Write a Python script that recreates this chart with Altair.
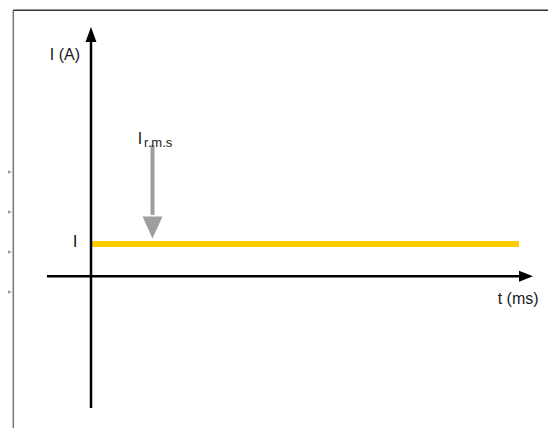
import altair as alt
import pandas as pd

# ---- schematic data (t in ms, current in units of I) ----
signal_t = [0, 100]            # constant r.m.s current I over time
signal_i = [1, 1]

x_axis_t = [-10.3, 100]        # horizontal (time) axis extent
x_head_t = [101.64]
y_axis_i = [-4.08, 7.3]        # vertical (current) axis extent
y_head_i = [7.486]

rms_arrow_t = [14.37]          # grey arrow pointing at the level
rms_shaft_i = [4.065, 1.9]
rms_head_i = [1.511]

side_marks_i = [3.229, 1.990, 0.752, -0.486]   # grey pointers at left edge
side_marks_t = -19.86

frame_left_t = -18.15
frame_top_i = 8.235
frame_bottom_i = -4.70
frame_right_t = 106.8

labels = {
    "y_title": ("I (A)", -2.57, 6.697),
    "level": ("I", -3.15, 0.916),
    "x_title": ("t (ms)", 104.58, -0.858),
    "rms_main": ("I", 10.93, 4.096),
    "rms_sub": ("r.m.s", 12.41, 4.003),
}

# ---- scales ----
XS = alt.Scale(domain=[0, 100], range=[83, 511])
YS = alt.Scale(domain=[0, 1], range=[268.3, 236])
FONT = "Liberation Sans"


def X(f):
    return alt.X(f, type="quantitative", scale=XS, axis=None)


def Y(f):
    return alt.Y(f, type="quantitative", scale=YS, axis=None)


# frame lines
frame_v = pd.DataFrame({"t": [frame_left_t], "i0": [frame_top_i], "i1": [frame_bottom_i]})
frame_h = pd.DataFrame({"t0": [frame_left_t], "t1": [frame_right_t], "i": [frame_top_i]})
l_frame_v = alt.Chart(frame_v).mark_rule(color="#777777", strokeWidth=1.5).encode(
    x=X("t"), y=Y("i0"), y2="i1:Q")
l_frame_h = alt.Chart(frame_h).mark_rule(color="#333333", strokeWidth=1.5).encode(
    x=X("t0"), x2="t1:Q", y=Y("i"))

# side pointers
side = pd.DataFrame({"t": [side_marks_t] * len(side_marks_i), "i": side_marks_i})
l_side = alt.Chart(side).mark_point(
    shape="M1,0L-1,-0.833L-1,0.833Z", size=144, filled=True, opacity=1,
    color="#9e9e9e", strokeWidth=0).encode(x=X("t"), y=Y("i"))

# yellow signal
sig = pd.DataFrame({"t0": [signal_t[0]], "t1": [signal_t[1]], "i": [signal_i[0]]})
l_sig = alt.Chart(sig).mark_rule(color="#FFCC00", strokeWidth=6).encode(
    x=X("t0"), x2="t1:Q", y=Y("i"))

# axes
xa = pd.DataFrame({"t0": [x_axis_t[0]], "t1": [x_axis_t[1]], "i": [0]})
ya = pd.DataFrame({"t": [0], "i0": [y_axis_i[0]], "i1": [y_axis_i[1]]})
l_xa = alt.Chart(xa).mark_rule(color="#000000", strokeWidth=2.5).encode(
    x=X("t0"), x2="t1:Q", y=Y("i"))
l_ya = alt.Chart(ya).mark_rule(color="#000000", strokeWidth=2.5).encode(
    x=X("t"), y=Y("i0"), y2="i1:Q")
xh = pd.DataFrame({"t": x_head_t, "i": [0]})
yh = pd.DataFrame({"t": [0], "i": y_head_i})
l_xh = alt.Chart(xh).mark_point(
    shape="M1,0L-1,-0.786L-1,0.786Z", size=196, filled=True, opacity=1,
    color="#000000", strokeWidth=0).encode(x=X("t"), y=Y("i"))
l_yh = alt.Chart(yh).mark_point(
    shape="M0,-1L0.733,1L-0.733,1Z", size=225, filled=True, opacity=1,
    color="#000000", strokeWidth=0).encode(x=X("t"), y=Y("i"))

# grey r.m.s arrow
shaft = pd.DataFrame({"t": rms_arrow_t, "i0": [rms_shaft_i[0]], "i1": [rms_shaft_i[1]]})
l_shaft = alt.Chart(shaft).mark_rule(color="#9e9e9e", strokeWidth=4).encode(
    x=X("t"), y=Y("i0"), y2="i1:Q")
head = pd.DataFrame({"t": rms_arrow_t, "i": rms_head_i})
l_head = alt.Chart(head).mark_point(
    shape="M0,1L-0.91,-1L0.91,-1Z", size=484, filled=True, opacity=1,
    color="#9e9e9e", strokeWidth=0).encode(x=X("t"), y=Y("i"))


def text_layer(key, align, size):
    txt, t, i = labels[key]
    df = pd.DataFrame({"t": [t], "i": [i], "label": [txt]})
    return alt.Chart(df).mark_text(
        align=align, baseline="alphabetic", font=FONT, fontSize=size,
        color="#1a1a1a").encode(x=X("t"), y=Y("i"), text="label:N")


texts = [
    text_layer("y_title", "right", 16),
    text_layer("level", "right", 17),
    text_layer("x_title", "right", 16),
    text_layer("rms_main", "left", 16),
    text_layer("rms_sub", "left", 13),
]

chart = alt.layer(
    l_frame_v, l_frame_h, l_side, l_sig, l_xa, l_ya, l_xh, l_yh, l_shaft, l_head, *texts
).properties(
    width=540, height=420,
    autosize=alt.AutoSizeParams(type="none"),
    padding=0,
).configure_view(stroke=None)

chart.save("out.html", embed_options={"renderer": "svg", "actions": False})
